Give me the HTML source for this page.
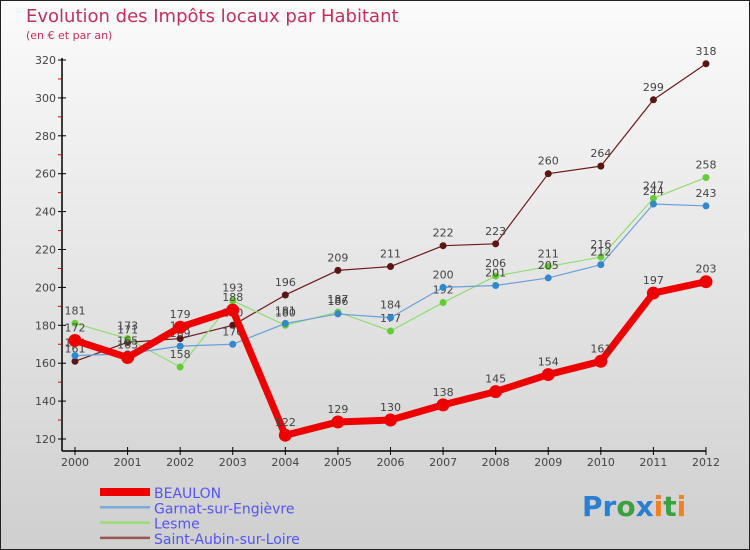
<!DOCTYPE html>
<html><head><meta charset="utf-8"><style>
body{margin:0;}
#wrap{width:750px;height:550px;position:relative;box-sizing:border-box;border:1px solid #222;background:linear-gradient(#fbfbfb,#cfcfcf);font-family:"DejaVu Sans","Liberation Sans",sans-serif;overflow:hidden}
svg text{font-family:"DejaVu Sans","Liberation Sans",sans-serif}
</style></head><body>
<div id="wrap">
<svg id="chart" width="750" height="550" style="position:absolute;left:-1px;top:-1px">
<text x="26" y="22" font-size="18" fill="#c0305a">Evolution des Impôts locaux par Habitant</text>
<text x="26" y="39" font-size="11" fill="#c0305a">(en € et par an)</text>
<g id="axes"></g><g id="series"></g><g id="legend"></g>
<text x="582" y="516" font-size="28" font-weight="bold"><tspan fill="#2a7fd0">Pr</tspan><tspan fill="#3aa040">o</tspan><tspan fill="#2a7fd0">x</tspan><tspan fill="#f08020">i</tspan><tspan fill="#3aa040">t</tspan><tspan fill="#f08020">i</tspan></text>
</svg>
</div>
<script>
const years=["2000","2001","2002","2003","2004","2005","2006","2007","2008","2009","2010","2011","2012"];
const beaulon=[172,163,179,188,122,129,130,138,145,154,161,197,203];
const garnat=[164,165,169,170,181,186,184,200,201,205,212,244,243];
const lesme=[181,173,158,193,180,187,177,192,206,211,216,247,258];
const saintAubin=[161,171,173,180,196,209,211,222,223,260,264,299,318];
const yTicks=[120,140,160,180,200,220,240,260,280,300,320];
const seriesNames=["BEAULON","Garnat-sur-Engièvre","Lesme","Saint-Aubin-sur-Loire"];
const NS="http://www.w3.org/2000/svg";
const x=i=>75+i*(706-75)/12;
const y=v=>439-(v-120)*(439-60)/200;
function mk(t,a,p){const e=document.createElementNS(NS,t);for(const k in a)e.setAttribute(k,a[k]);p.appendChild(e);return e;}
const ax=document.getElementById('axes');
let l=mk('line',{x1:62,y1:58,x2:62,y2:451,stroke:'#000','stroke-width':1.5},ax);


l=mk('line',{x1:62,y1:451,x2:706,y2:451,stroke:'#000','stroke-width':1.5},ax);


yTicks.forEach((v,i)=>{
 mk('line',{x1:58,y1:y(v),x2:66,y2:y(v),stroke:'#000'},ax);
 if(i<yTicks.length-1)mk('line',{x1:58,y1:y(v+10),x2:62,y2:y(v+10),stroke:'#d00'},ax);
 const t=mk('text',{x:56,y:y(v)+4,'font-size':11,'text-anchor':'end',fill:'#444'},ax);t.textContent=v;
 
 
});
years.forEach((yr,i)=>{
 mk('line',{x1:x(i),y1:447,x2:x(i),y2:455,stroke:'#000'},ax);
 const t=mk('text',{x:x(i),y:466,'font-size':11,'text-anchor':'middle',fill:'#444'},ax);t.textContent=yr;
 
 
});
const sg=document.getElementById('series');
const defs=[[saintAubin,'#6b1a1a',1.2,3.5,'#5a1515'],[lesme,'#90dd70',1.2,3.5,'#66cc33'],[garnat,'#6aa0d8',1.2,3.5,'#3388cc'],[beaulon,'#ee0000',7,6.5,'#ee0000']];
const names=['saint-aubin','lesme','garnat','beaulon'];
defs.forEach((d,si)=>{
 const g=mk('g',{},sg);
 
 
 const p=mk('polyline',{points:d[0].map((v,i)=>x(i)+','+y(v)).join(' '),fill:'none',stroke:d[1],'stroke-width':d[2],'stroke-linejoin':'round'},g);
 
 
 d[0].forEach((v,i)=>{
  const c=mk('circle',{cx:x(i),cy:y(v),r:d[3],fill:d[4]},g);
  
  
  const t=mk('text',{x:x(i),y:y(v)-9,'font-size':11,'text-anchor':'middle',fill:'#444'},g);t.textContent=v;
  
  
 });
});
const lg=document.getElementById('legend');
const lcol=['#ee0000','#7aaad8','#99dd77','#9a5555'],lw=[8,2.5,2.5,2.5];
seriesNames.forEach((n,i)=>{
 const yy=492+i*15.3;
 const g=mk('g',{},lg);
 
 
 mk('line',{x1:100,y1:yy,x2:150,y2:yy,stroke:lcol[i],'stroke-width':lw[i]},g);
 const t=mk('text',{x:154,y:yy+6,'font-size':14,fill:'#5555ee'},g);t.textContent=n;
});
</script>
</body></html>
